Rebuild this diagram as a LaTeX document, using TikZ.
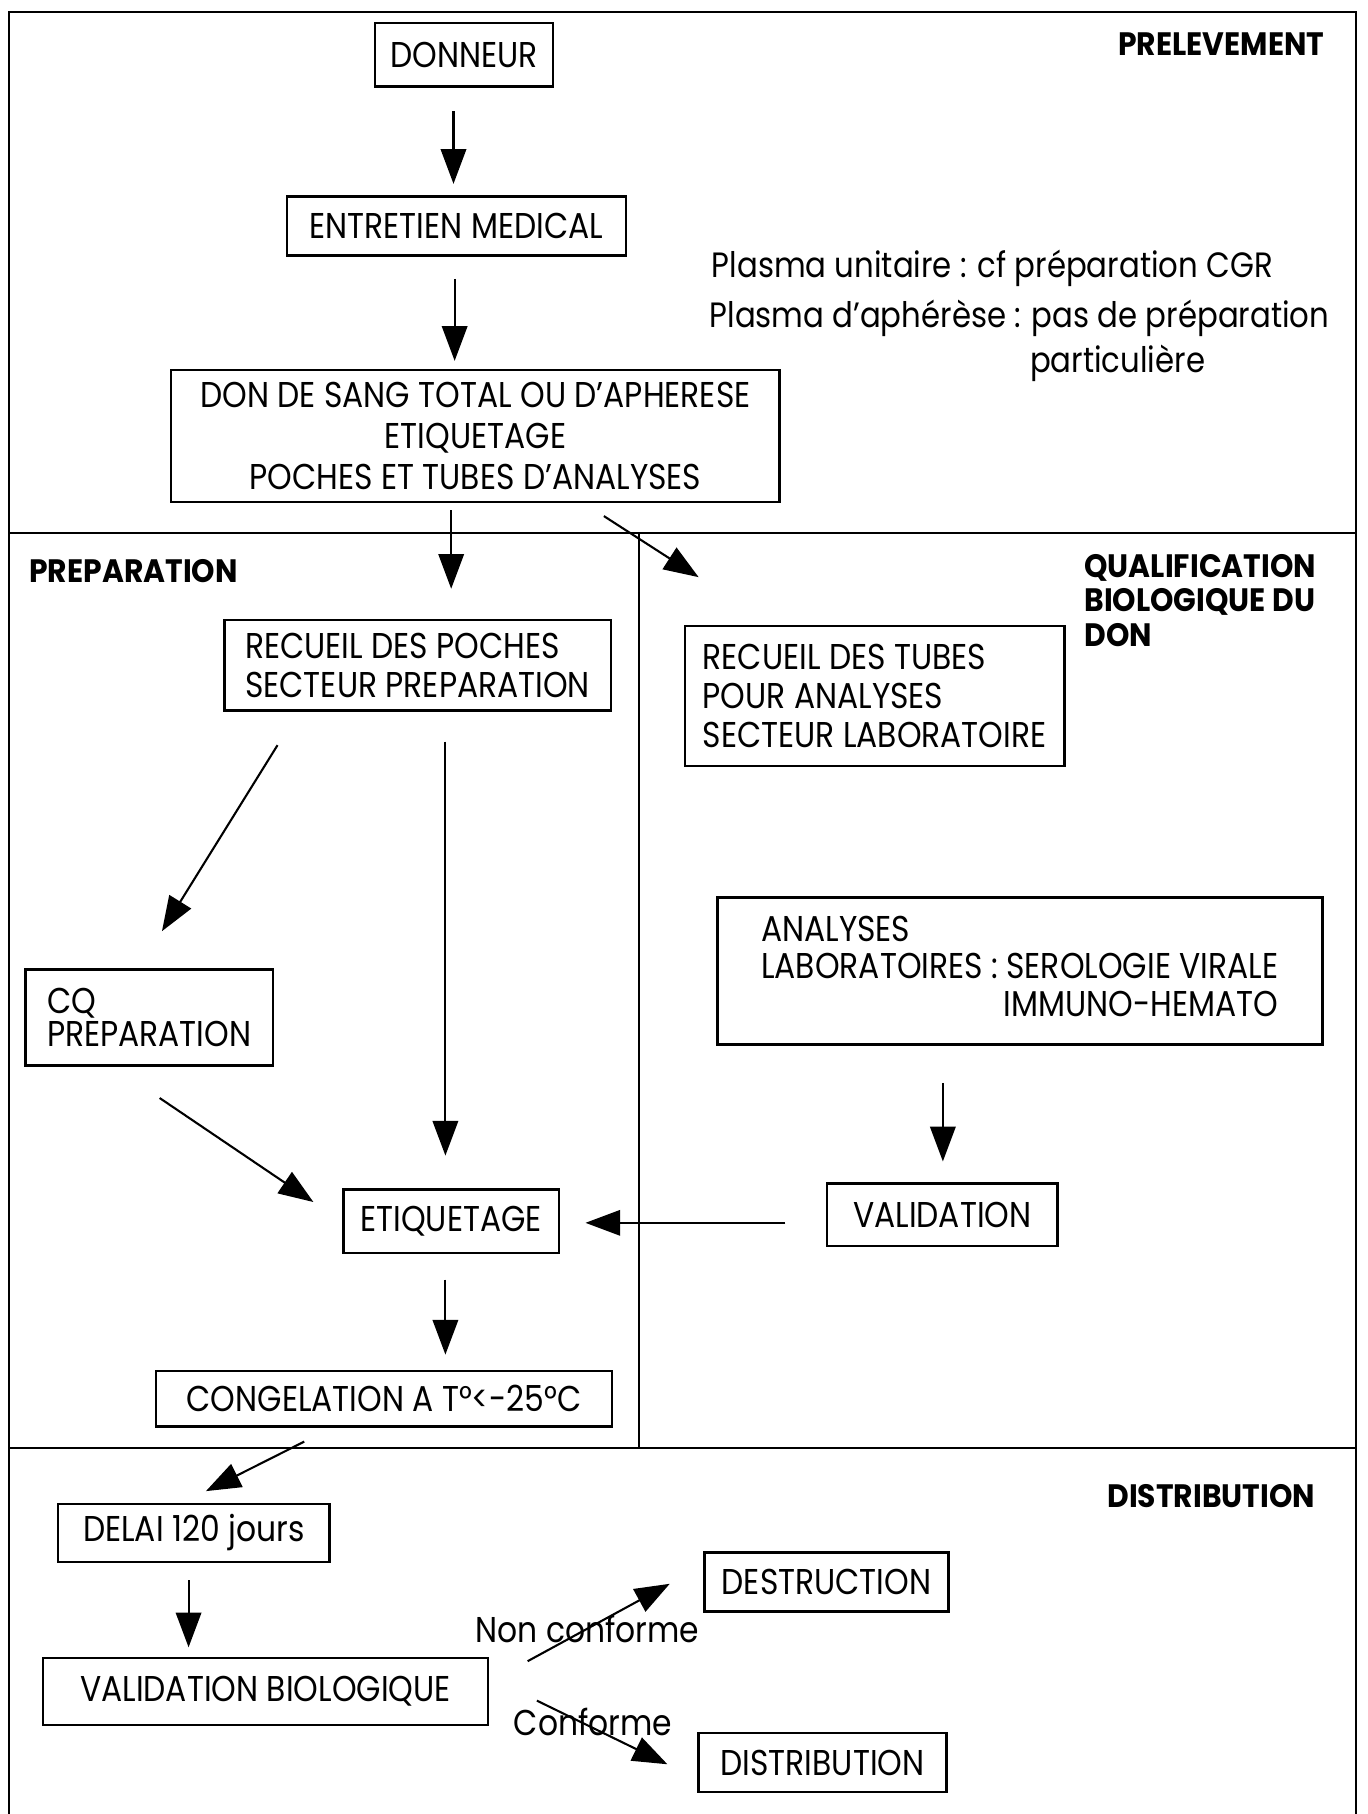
\documentclass[tikz,border=0pt]{standalone}
\usepackage{fontspec}
\setmainfont{Poppins}[FakeStretch=0.875]
\newfontfamily\zonefont{Poppins}[FakeStretch=0.92]
\usetikzlibrary{arrows.meta}

\begin{document}
\begin{tikzpicture}[
        x=0.5pt, y=-0.5pt,
        font=\fontsize{15.5}{17}\selectfont,
        stepBox/.style={rectangle, draw, line width=1.1pt, inner sep=2pt, align=center},
        leftBox/.style={stepBox, align=left},
        noteText/.style={anchor=west, inner sep=0pt, font=\fontsize{15.2}{17}\selectfont},
        zoneLabel/.style={inner sep=0pt, font=\fontsize{14}{15}\zonefont\bfseries},
        flow/.style={line width=0.9pt, -{Triangle[length=15pt, width=11pt]}},
        zoneLine/.style={line width=0.9pt}
    ]
        \useasboundingbox (0,0) rectangle (1182,1568);

        \draw[zoneLine] (8,10) rectangle (1172,1600);
        \draw[zoneLine] (8,461) -- (1172,461);
        \draw[zoneLine] (552,461) -- (552,1252);
        \draw[zoneLine] (8,1252) -- (1172,1252);

        \node[zoneLabel, anchor=east] (prelevement) at (1145,38) {PRELEVEMENT};
        \node[zoneLabel, anchor=west] (preparation) at (25,494) {PREPARATION};
        \node[zoneLabel, anchor=north west, align=left, font=\fontsize{14}{14.8}\zonefont\bfseries] (qualification) at (937,479) {QUALIFICATION\\BIOLOGIQUE DU\\DON};
        \node[zoneLabel, anchor=east] (distrib) at (1137,1293) {DISTRIBUTION};

        \node[stepBox, minimum width=77pt, minimum height=27.5pt] (donneur) at (401,47.5) {DONNEUR};
        \node[stepBox, minimum width=146.5pt, minimum height=25.5pt] (entretien) at (394.5,195.5) {ENTRETIEN MEDICAL};
        \node[stepBox, minimum width=263pt, minimum height=57pt, font=\fontsize{15.5}{17.8}\selectfont] (don) at (411,377) {DON DE SANG TOTAL OU D'APHERESE\\ETIQUETAGE\\POCHES ET TUBES D'ANALYSES};
        \node[noteText] (plasmaA) at (615,232) {Plasma unitaire : cf préparation CGR};
        \node[noteText] (plasmaB) at (613,275) {Plasma d'aphérèse : pas de préparation};
        \node[noteText] (plasmaC) at (890,314) {particulière};

        \node[leftBox, minimum width=167pt, minimum height=39pt] (poches) at (361,575) {RECUEIL DES POCHES\\SECTEUR PREPARATION};
        \node[leftBox, minimum width=164pt, minimum height=60.5pt] (tubes) at (756,601.5) {RECUEIL DES TUBES\\POUR ANALYSES\\SECTEUR LABORATOIRE};
        \node[leftBox, minimum width=107pt, minimum height=41.5pt, font=\fontsize{15.5}{14.5}\selectfont] (cq) at (129,879.5) {CQ\\PREPARATION};
        \node[stepBox, minimum width=261.5pt, minimum height=63.5pt, font=\fontsize{15.5}{16.3}\selectfont] (analyses) at (881.5,839.5) {\begin{tabular}{@{}l@{}}ANALYSES\\LABORATOIRES : SEROLOGIE VIRALE\\\multicolumn{1}{@{}r@{}}{IMMUNO-HEMATO}\end{tabular}};
        \node[stepBox, minimum width=99.5pt, minimum height=27pt] (validation) at (814.5,1050) {VALIDATION};
        \node[stepBox, minimum width=93pt, minimum height=27.5pt] (etiquetage) at (390,1055.5) {ETIQUETAGE};
        \node[stepBox, minimum width=197pt, minimum height=24pt] (congelation) at (332,1209) {CONGELATION A T°<-25°C};

        \node[stepBox, minimum width=117.5pt, minimum height=25pt] (delai) at (167.5,1325) {DELAI 120 jours};
        \node[stepBox, minimum width=192.5pt, minimum height=29pt] (valbio) at (229.5,1462) {VALIDATION BIOLOGIQUE};
        \node[stepBox, minimum width=105.5pt, minimum height=25.5pt] (destruction) at (714.5,1367.5) {DESTRUCTION};
        \node[stepBox, minimum width=107pt, minimum height=25.5pt] (distribution) at (711,1523.5) {DISTRIBUTION};

        \draw[flow] ([shift={(-9,20)}]donneur.south) -- ([shift={(-2.5,-10)}]entretien.north);
        \draw[flow] ([shift={(-1.5,19)}]entretien.south) -- ([shift={(-18,-7)}]don.north);
        \draw[flow] ([shift={(-21,6)}]don.south) -- ([shift={(29,-26)}]poches.north);
        \draw[flow] ([shift={(111,11)}]don.south) -- ([shift={(13,-41)}]tubes.north west);
        \draw[flow] ([shift={(47,29)}]poches.south west) -- ([shift={(11,-32)}]cq.north);
        \draw[flow] ([shift={(24,26)}]poches.south) -- ([shift={(-5,-28)}]etiquetage.north);
        \draw[flow] ([shift={(9,27)}]cq.south) -- ([shift={(-25,-16.5)}]etiquetage.west);
        \draw[flow] ([shift={(-66.5,32)}]analyses.south) -- ([shift={(0.5,-18)}]validation.north);
        \draw[flow] ([shift={(-35,7)}]validation.west) -- ([shift={(22,1.5)}]etiquetage.east);
        \draw[flow] ([shift={(-5,22)}]etiquetage.south) -- ([shift={(53,-13)}]congelation.north);
        \draw[flow] ([shift={(-69,12)}]congelation.south) -- ([shift={(10.5,-10)}]delai.north);
        \draw[flow] ([shift={(-4.5,15)}]delai.south) -- ([shift={(-66.5,-8)}]valbio.north);
        \draw[flow] ([shift={(33,4)}]valbio.north east) -- node[pos=0.42, inner sep=0pt] (nonconf) {Non conforme} ([shift={(-29,1.5)}]destruction.west);
        \draw[flow] ([shift={(41,8)}]valbio.east) -- node[pos=0.43, yshift=2.5pt, inner sep=0pt] (conf) {Conforme} ([shift={(-26,1.5)}]distribution.west);
    \end{tikzpicture}
\end{document}
